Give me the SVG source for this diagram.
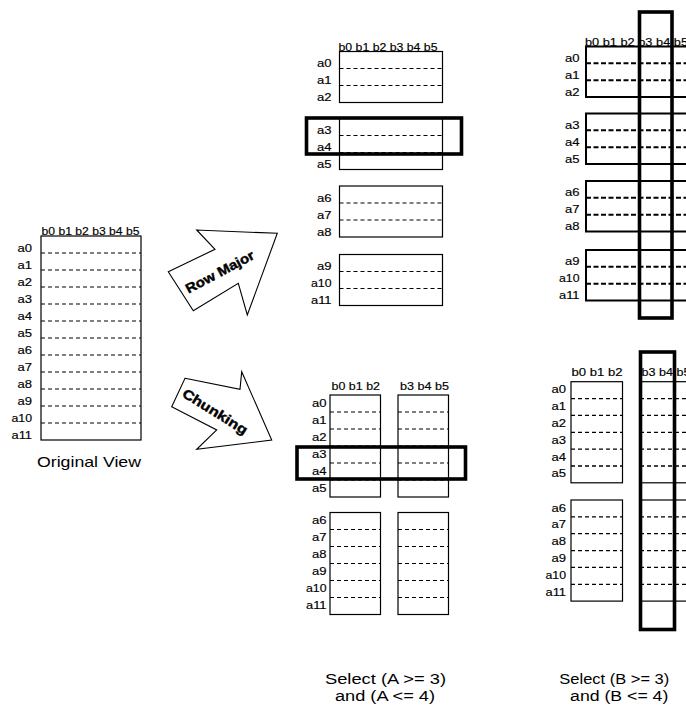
<svg xmlns="http://www.w3.org/2000/svg" width="686" height="707" viewBox="0 0 686 707">
<style>
.box{fill:none;stroke:#000;stroke-width:1.2}
.boxb{fill:none;stroke:#000;stroke-width:2}
.dash{stroke:#000;stroke-width:1.1;stroke-dasharray:4 3}
.dashb{stroke:#000;stroke-width:2;stroke-dasharray:5 2.5}
.sel{fill:none;stroke:#000;stroke-width:3.6}
.lbl{font-family:"Liberation Sans",Arial,sans-serif;font-size:10px;text-anchor:end;fill:#000;stroke:#000;stroke-width:0.15}
.hdr{font-family:"Liberation Sans",Arial,sans-serif;font-size:10px;fill:#000;stroke:#000;stroke-width:0.15}
.cap{font-family:"Liberation Sans",Arial,sans-serif;font-size:14px;text-anchor:middle;fill:#000}
.arr{fill:#fff;stroke:#000;stroke-width:1.1;stroke-linejoin:miter}
.atx{font-family:"Liberation Sans",Arial,sans-serif;font-size:13.5px;font-weight:bold;text-anchor:middle;fill:#000;stroke:#000;stroke-width:0.4}
</style>
<rect width="686" height="707" fill="#fff"/>

<g id="original">
<rect class="box" x="41" y="236" width="100" height="204"/>
<g class="dash">
<line x1="41" y1="253" x2="141" y2="253"/><line x1="41" y1="270" x2="141" y2="270"/><line x1="41" y1="287" x2="141" y2="287"/><line x1="41" y1="304" x2="141" y2="304"/><line x1="41" y1="321" x2="141" y2="321"/><line x1="41" y1="338" x2="141" y2="338"/><line x1="41" y1="355" x2="141" y2="355"/><line x1="41" y1="372" x2="141" y2="372"/><line x1="41" y1="389" x2="141" y2="389"/><line x1="41" y1="406" x2="141" y2="406"/><line x1="41" y1="423" x2="141" y2="423"/>
</g>
<text class="hdr" x="41.5" y="235" textLength="98" lengthAdjust="spacingAndGlyphs">b0 b1 b2 b3 b4 b5</text>
<text class="lbl" x="32" y="251.5" textLength="14.5" lengthAdjust="spacingAndGlyphs">a0</text>
<text class="lbl" x="32" y="268.5" textLength="14.5" lengthAdjust="spacingAndGlyphs">a1</text>
<text class="lbl" x="32" y="285.5" textLength="14.5" lengthAdjust="spacingAndGlyphs">a2</text>
<text class="lbl" x="32" y="302.5" textLength="14.5" lengthAdjust="spacingAndGlyphs">a3</text>
<text class="lbl" x="32" y="319.5" textLength="14.5" lengthAdjust="spacingAndGlyphs">a4</text>
<text class="lbl" x="32" y="336.5" textLength="14.5" lengthAdjust="spacingAndGlyphs">a5</text>
<text class="lbl" x="32" y="353.5" textLength="14.5" lengthAdjust="spacingAndGlyphs">a6</text>
<text class="lbl" x="32" y="370.5" textLength="14.5" lengthAdjust="spacingAndGlyphs">a7</text>
<text class="lbl" x="32" y="387.5" textLength="14.5" lengthAdjust="spacingAndGlyphs">a8</text>
<text class="lbl" x="32" y="404.5" textLength="14.5" lengthAdjust="spacingAndGlyphs">a9</text>
<text class="lbl" x="32" y="421.5" textLength="20.5" lengthAdjust="spacingAndGlyphs">a10</text>
<text class="lbl" x="32" y="438.5" textLength="20.5" lengthAdjust="spacingAndGlyphs">a11</text>
<text class="cap" x="89" y="467" textLength="104" lengthAdjust="spacingAndGlyphs" style="font-size:15px">Original View</text>
</g>

<g id="connectors">
<g id="row-major-arrow">
<polygon class="arr" points="168.3,271.7 215,249.3 196.7,230 277.3,233.3 247.3,315 238.3,283.3 193.3,310.7"/>
<text class="atx" transform="translate(222,276) rotate(-28)" textLength="76" lengthAdjust="spacingAndGlyphs">Row Major</text>
</g>
<g id="chunking-arrow">
<polygon class="arr" points="185,378.3 240,389.3 241.7,371.7 271.7,440 196.7,449.3 216.7,430 171.7,406.7"/>
<text class="atx" transform="translate(212.6,415.5) rotate(32)" textLength="74" lengthAdjust="spacingAndGlyphs">Chunking</text>
</g>
</g>

<g id="row-major-view">
<text class="hdr" x="338.5" y="51" textLength="99" lengthAdjust="spacingAndGlyphs">b0 b1 b2 b3 b4 b5</text>
<rect class="box" x="339.5" y="51.5" width="103" height="51"/>
<rect class="box" x="339.5" y="118.5" width="103" height="51"/>
<rect class="box" x="339.5" y="186" width="103" height="51"/>
<rect class="box" x="339.5" y="254.5" width="103" height="51"/>
<g class="dash">
<line x1="339.5" y1="68.5" x2="442.5" y2="68.5"/><line x1="339.5" y1="85.5" x2="442.5" y2="85.5"/>
<line x1="339.5" y1="135.5" x2="442.5" y2="135.5"/><line x1="339.5" y1="152.5" x2="442.5" y2="152.5"/>
<line x1="339.5" y1="203" x2="442.5" y2="203"/><line x1="339.5" y1="220" x2="442.5" y2="220"/>
<line x1="339.5" y1="271.5" x2="442.5" y2="271.5"/><line x1="339.5" y1="288.5" x2="442.5" y2="288.5"/>
</g>
<text class="lbl" x="331.5" y="67" textLength="14.5" lengthAdjust="spacingAndGlyphs">a0</text>
<text class="lbl" x="331.5" y="84" textLength="14.5" lengthAdjust="spacingAndGlyphs">a1</text>
<text class="lbl" x="331.5" y="101" textLength="14.5" lengthAdjust="spacingAndGlyphs">a2</text>
<text class="lbl" x="331.5" y="134" textLength="14.5" lengthAdjust="spacingAndGlyphs">a3</text>
<text class="lbl" x="331.5" y="151" textLength="14.5" lengthAdjust="spacingAndGlyphs">a4</text>
<text class="lbl" x="331.5" y="168" textLength="14.5" lengthAdjust="spacingAndGlyphs">a5</text>
<text class="lbl" x="331.5" y="201.5" textLength="14.5" lengthAdjust="spacingAndGlyphs">a6</text>
<text class="lbl" x="331.5" y="218.5" textLength="14.5" lengthAdjust="spacingAndGlyphs">a7</text>
<text class="lbl" x="331.5" y="235.5" textLength="14.5" lengthAdjust="spacingAndGlyphs">a8</text>
<text class="lbl" x="331.5" y="270" textLength="14.5" lengthAdjust="spacingAndGlyphs">a9</text>
<text class="lbl" x="331.5" y="287" textLength="20.5" lengthAdjust="spacingAndGlyphs">a10</text>
<text class="lbl" x="331.5" y="304" textLength="20.5" lengthAdjust="spacingAndGlyphs">a11</text>
<rect class="sel" x="306.5" y="118" width="155" height="36"/>
</g>

<g id="row-major-column-select">
<text class="hdr" x="585" y="45.5" textLength="103" lengthAdjust="spacingAndGlyphs">b0 b1 b2 b3 b4 b5</text>
<rect class="boxb" x="586" y="46.5" width="110" height="50.5"/>
<rect class="boxb" x="586" y="113.5" width="110" height="50.5"/>
<rect class="boxb" x="586" y="181" width="110" height="50.5"/>
<rect class="boxb" x="586" y="250" width="110" height="50.5"/>
<g class="dashb">
<line x1="586" y1="63.3" x2="690" y2="63.3"/><line x1="586" y1="80.2" x2="690" y2="80.2"/>
<line x1="586" y1="130.3" x2="690" y2="130.3"/><line x1="586" y1="147.2" x2="690" y2="147.2"/>
<line x1="586" y1="197.8" x2="690" y2="197.8"/><line x1="586" y1="214.7" x2="690" y2="214.7"/>
<line x1="586" y1="266.8" x2="690" y2="266.8"/><line x1="586" y1="283.7" x2="690" y2="283.7"/>
</g>
<text class="lbl" x="579.5" y="61.8" textLength="14.5" lengthAdjust="spacingAndGlyphs">a0</text>
<text class="lbl" x="579.5" y="78.6" textLength="14.5" lengthAdjust="spacingAndGlyphs">a1</text>
<text class="lbl" x="579.5" y="95.5" textLength="14.5" lengthAdjust="spacingAndGlyphs">a2</text>
<text class="lbl" x="579.5" y="128.8" textLength="14.5" lengthAdjust="spacingAndGlyphs">a3</text>
<text class="lbl" x="579.5" y="145.6" textLength="14.5" lengthAdjust="spacingAndGlyphs">a4</text>
<text class="lbl" x="579.5" y="162.5" textLength="14.5" lengthAdjust="spacingAndGlyphs">a5</text>
<text class="lbl" x="579.5" y="196.3" textLength="14.5" lengthAdjust="spacingAndGlyphs">a6</text>
<text class="lbl" x="579.5" y="213.1" textLength="14.5" lengthAdjust="spacingAndGlyphs">a7</text>
<text class="lbl" x="579.5" y="230" textLength="14.5" lengthAdjust="spacingAndGlyphs">a8</text>
<text class="lbl" x="579.5" y="265.3" textLength="14.5" lengthAdjust="spacingAndGlyphs">a9</text>
<text class="lbl" x="579.5" y="282.1" textLength="20.5" lengthAdjust="spacingAndGlyphs">a10</text>
<text class="lbl" x="579.5" y="299" textLength="20.5" lengthAdjust="spacingAndGlyphs">a11</text>
<rect class="sel" x="639.5" y="12" width="32.5" height="306"/>
</g>

<g id="chunking-view">
<text class="hdr" x="331.5" y="390" textLength="48.5" lengthAdjust="spacingAndGlyphs">b0 b1 b2</text>
<text class="hdr" x="400" y="390" textLength="49" lengthAdjust="spacingAndGlyphs">b3 b4 b5</text>
<rect class="box" x="330" y="395" width="50.5" height="102"/>
<rect class="box" x="398" y="395" width="50.5" height="102"/>
<rect class="box" x="330" y="512.5" width="50.5" height="102"/>
<rect class="box" x="398" y="512.5" width="50.5" height="102"/>
<g class="dash">
<line x1="330" y1="412" x2="380.5" y2="412"/><line x1="330" y1="429" x2="380.5" y2="429"/><line x1="330" y1="446" x2="380.5" y2="446"/><line x1="330" y1="463" x2="380.5" y2="463"/><line x1="330" y1="480" x2="380.5" y2="480"/>
<line x1="398" y1="412" x2="448.5" y2="412"/><line x1="398" y1="429" x2="448.5" y2="429"/><line x1="398" y1="446" x2="448.5" y2="446"/><line x1="398" y1="463" x2="448.5" y2="463"/><line x1="398" y1="480" x2="448.5" y2="480"/>
<line x1="330" y1="529.5" x2="380.5" y2="529.5"/><line x1="330" y1="546.5" x2="380.5" y2="546.5"/><line x1="330" y1="563.5" x2="380.5" y2="563.5"/><line x1="330" y1="580.5" x2="380.5" y2="580.5"/><line x1="330" y1="597.5" x2="380.5" y2="597.5"/>
<line x1="398" y1="529.5" x2="448.5" y2="529.5"/><line x1="398" y1="546.5" x2="448.5" y2="546.5"/><line x1="398" y1="563.5" x2="448.5" y2="563.5"/><line x1="398" y1="580.5" x2="448.5" y2="580.5"/><line x1="398" y1="597.5" x2="448.5" y2="597.5"/>
</g>
<text class="lbl" x="326.5" y="406.5" textLength="14.5" lengthAdjust="spacingAndGlyphs">a0</text>
<text class="lbl" x="326.5" y="423.5" textLength="14.5" lengthAdjust="spacingAndGlyphs">a1</text>
<text class="lbl" x="326.5" y="440.5" textLength="14.5" lengthAdjust="spacingAndGlyphs">a2</text>
<text class="lbl" x="326.5" y="457.5" textLength="14.5" lengthAdjust="spacingAndGlyphs">a3</text>
<text class="lbl" x="326.5" y="474.5" textLength="14.5" lengthAdjust="spacingAndGlyphs">a4</text>
<text class="lbl" x="326.5" y="491.5" textLength="14.5" lengthAdjust="spacingAndGlyphs">a5</text>
<text class="lbl" x="326.5" y="524" textLength="14.5" lengthAdjust="spacingAndGlyphs">a6</text>
<text class="lbl" x="326.5" y="541" textLength="14.5" lengthAdjust="spacingAndGlyphs">a7</text>
<text class="lbl" x="326.5" y="558" textLength="14.5" lengthAdjust="spacingAndGlyphs">a8</text>
<text class="lbl" x="326.5" y="575" textLength="14.5" lengthAdjust="spacingAndGlyphs">a9</text>
<text class="lbl" x="326.5" y="592" textLength="20.5" lengthAdjust="spacingAndGlyphs">a10</text>
<text class="lbl" x="326.5" y="609" textLength="20.5" lengthAdjust="spacingAndGlyphs">a11</text>
<rect class="sel" x="297" y="447" width="168.5" height="32"/>
</g>

<g id="chunking-column-select">
<text class="hdr" x="571.5" y="376" textLength="51" lengthAdjust="spacingAndGlyphs">b0 b1 b2</text>
<text class="hdr" x="641.5" y="376" textLength="49" lengthAdjust="spacingAndGlyphs">b3 b4 b5</text>
<rect class="box" x="571" y="381.7" width="51.5" height="101.1"/>
<rect class="box" x="640" y="381.7" width="60" height="101.1"/>
<rect class="box" x="571" y="500" width="51.5" height="101.1"/>
<rect class="box" x="640" y="500" width="60" height="101.1"/>
<g class="dash" style="stroke-width:1.3;stroke-dasharray:4 3">
<line x1="571" y1="398.6" x2="622.5" y2="398.6"/><line x1="571" y1="415.4" x2="622.5" y2="415.4"/><line x1="571" y1="432.3" x2="622.5" y2="432.3"/><line x1="571" y1="449.1" x2="622.5" y2="449.1"/><line x1="571" y1="466" x2="622.5" y2="466"/>
<line x1="640" y1="398.6" x2="690" y2="398.6"/><line x1="640" y1="415.4" x2="690" y2="415.4"/><line x1="640" y1="432.3" x2="690" y2="432.3"/><line x1="640" y1="449.1" x2="690" y2="449.1"/><line x1="640" y1="466" x2="690" y2="466"/>
<line x1="571" y1="516.9" x2="622.5" y2="516.9"/><line x1="571" y1="533.7" x2="622.5" y2="533.7"/><line x1="571" y1="550.6" x2="622.5" y2="550.6"/><line x1="571" y1="567.4" x2="622.5" y2="567.4"/><line x1="571" y1="584.3" x2="622.5" y2="584.3"/>
<line x1="640" y1="516.9" x2="690" y2="516.9"/><line x1="640" y1="533.7" x2="690" y2="533.7"/><line x1="640" y1="550.6" x2="690" y2="550.6"/><line x1="640" y1="567.4" x2="690" y2="567.4"/><line x1="640" y1="584.3" x2="690" y2="584.3"/>
</g>
<text class="lbl" x="566" y="393.2" textLength="14.5" lengthAdjust="spacingAndGlyphs">a0</text>
<text class="lbl" x="566" y="410" textLength="14.5" lengthAdjust="spacingAndGlyphs">a1</text>
<text class="lbl" x="566" y="426.9" textLength="14.5" lengthAdjust="spacingAndGlyphs">a2</text>
<text class="lbl" x="566" y="443.7" textLength="14.5" lengthAdjust="spacingAndGlyphs">a3</text>
<text class="lbl" x="566" y="460.6" textLength="14.5" lengthAdjust="spacingAndGlyphs">a4</text>
<text class="lbl" x="566" y="477.4" textLength="14.5" lengthAdjust="spacingAndGlyphs">a5</text>
<text class="lbl" x="566" y="511.5" textLength="14.5" lengthAdjust="spacingAndGlyphs">a6</text>
<text class="lbl" x="566" y="528.3" textLength="14.5" lengthAdjust="spacingAndGlyphs">a7</text>
<text class="lbl" x="566" y="545.2" textLength="14.5" lengthAdjust="spacingAndGlyphs">a8</text>
<text class="lbl" x="566" y="562" textLength="14.5" lengthAdjust="spacingAndGlyphs">a9</text>
<text class="lbl" x="566" y="578.9" textLength="20.5" lengthAdjust="spacingAndGlyphs">a10</text>
<text class="lbl" x="566" y="595.7" textLength="20.5" lengthAdjust="spacingAndGlyphs">a11</text>
<rect class="sel" x="640.5" y="352" width="34" height="277.5"/>
</g>

<g id="captions">
<text class="cap" x="385.5" y="683.5" textLength="121" lengthAdjust="spacingAndGlyphs">Select (A &gt;= 3)</text>
<text class="cap" x="385" y="700.5" textLength="100" lengthAdjust="spacingAndGlyphs">and (A &lt;= 4)</text>
<text class="cap" x="614.3" y="683.5" textLength="110" lengthAdjust="spacingAndGlyphs">Select (B &gt;= 3)</text>
<text class="cap" x="619.2" y="700.5" textLength="98.3" lengthAdjust="spacingAndGlyphs">and (B &lt;= 4)</text>
</g>
</svg>
